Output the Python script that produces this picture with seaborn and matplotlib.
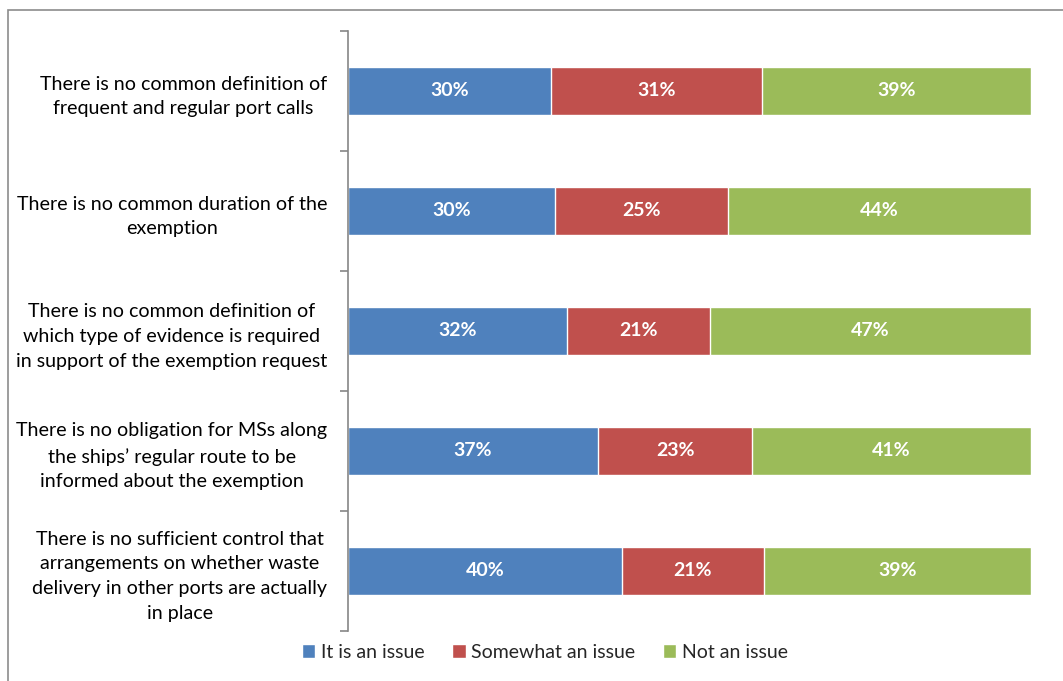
#!/usr/bin/env python3
"""Stacked 100% bar chart: perceived issues with port call exemptions."""

import matplotlib
matplotlib.use('Agg')
import matplotlib.pyplot as plt
from matplotlib.patches import Rectangle, Patch
import numpy as np
import pandas as pd
import seaborn as sns

# ── Data ────────────────────────────────────────────────────────────────────
STATEMENTS = [
    "There is no common definition of\nfrequent and regular port calls",
    "There is no common duration of the\nexemption",
    "There is no common definition of\nwhich type of evidence is required\nin support of the exemption request",
    "There is no obligation for MSs along\nthe ships\u2019 regular route to be\ninformed about the exemption",
    "There is no sufficient control that\narrangements on whether waste\ndelivery in other ports are actually\nin place",
]
SERIES = ['It is an issue', 'Somewhat an issue', 'Not an issue']
IS_ISSUE = [29.7, 30.3, 32.1, 36.6, 40.1]
SOMEWHAT = [30.9, 25.3, 20.9, 22.6, 20.8]
NOT_ISSUE = [39.4, 44.4, 47.0, 40.8, 39.1]
COLORS = ['#4F81BD', '#C0504D', '#9BBB59']

FONT = ['Lato', 'DejaVu Sans']


def main():
    sns.set_theme(style='white')
    plt.rcParams['font.family'] = FONT

    fig = plt.figure(figsize=(10.63, 6.81), dpi=100)
    ax = fig.add_axes([348 / 1063, 1 - 631 / 681, (1031 - 348) / 1063, 600 / 681])

    values = np.array([IS_ISSUE, SOMEWHAT, NOT_ISSUE])
    cum = np.cumsum(values, axis=0)

    # seaborn has no stacking, so draw cumulative totals from the longest down
    for i in reversed(range(len(SERIES))):
        df = pd.DataFrame({'statement': STATEMENTS, 'total': cum[i]})
        sns.barplot(data=df, x='total', y='statement', orient='h',
                    color=COLORS[i], width=0.4, saturation=1, ax=ax)

    # segment labels
    for i in range(len(SERIES)):
        starts = cum[i] - values[i]
        for j, v in enumerate(values[i]):
            ax.text(starts[j] + v / 2, j, f"{v:.0f}%", ha='center', va='center',
                    color='white', fontsize=14, fontweight='bold')

    ax.set_xlim(0, 100)
    ax.set_ylim(len(STATEMENTS) - 0.5, -0.5)
    ax.set_xlabel('')
    ax.set_ylabel('')
    ax.set_xticks([])
    ax.set_yticks(range(len(STATEMENTS)))
    ax.set_yticklabels(STATEMENTS, fontsize=14.1, color='black',
                       multialignment='center', linespacing=1.55)
    ax.set_yticks(np.arange(-0.5, len(STATEMENTS), 1), minor=True)
    ax.tick_params(axis='y', which='major', length=0, pad=15)
    ax.tick_params(axis='y', which='minor', length=6, width=1.2,
                   color='#868686', left=True, direction='out')

    for side in ['top', 'right', 'bottom']:
        ax.spines[side].set_visible(False)
    ax.spines['left'].set_color('#868686')
    ax.spines['left'].set_linewidth(1.2)

    handles = [Patch(facecolor=c, label=s) for c, s in zip(COLORS, SERIES)]
    fig.legend(handles=handles, loc='center', ncol=3, frameon=False,
               bbox_to_anchor=(545 / 1063, 1 - 652 / 681), fontsize=14,
               handlelength=0.7, handleheight=0.7, handletextpad=0.3,
               columnspacing=1.4)

    # outer chart border (runs off the right and bottom of the image)
    fig.patches.append(Rectangle((8 / 1063, -0.1), 1.2, 1 - 10 / 681 + 0.1,
                                 transform=fig.transFigure, fill=False,
                                 edgecolor='#8C8C8C', linewidth=1.2))

    fig.savefig('out.png', dpi=100)
    plt.close(fig)


if __name__ == '__main__':
    main()
